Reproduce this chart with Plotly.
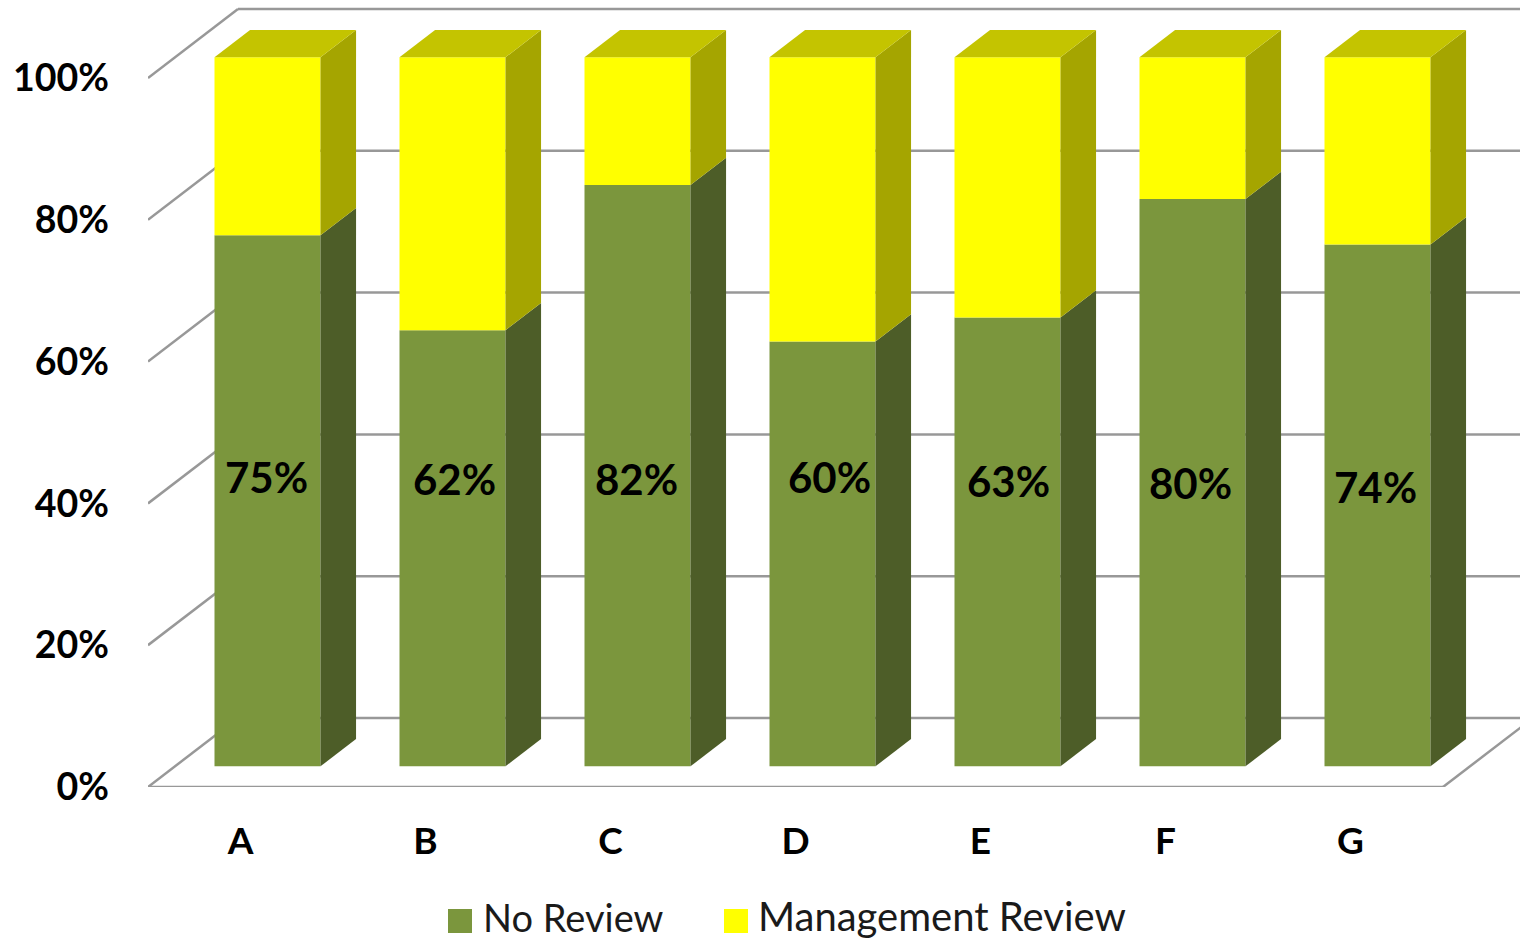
import plotly.graph_objects as go

categories = ["A", "B", "C", "D", "E", "F", "G"]
no_review = [74.9, 61.5, 82.0, 59.9, 63.3, 80.0, 73.6]
total = [100, 100, 100, 100, 100, 100, 100]
labels = ["75%", "62%", "82%", "60%", "63%", "80%", "74%"]
label_dx_px = [-1, 2, -1, 7, 1, -2, -2]
label_y_px = [482, 484, 484, 482, 486, 488, 492]
y_ticks = [0, 20, 40, 60, 80, 100]

GREEN, GREEN_SIDE = "#7B963D", "#4D5D28"
YELLOW, YELLOW_SIDE, YELLOW_TOP = "#FFFF00", "#A5A500", "#C4C400"
GRID = "#989898"
FONT = "Lato"

W, H = 1520, 940
LEFT, BOTTOM_PX = 148, 787
PX_X = 185.0           # pixels per category
PX_Y = 7.09            # pixels per percent
DX, DY = 90 / PX_X, 69 / PX_Y   # full floor depth in axis units
D_FRONT, D_BACK = 0.30, 0.695
HALF = 0.2865


def proj(i, p, d):
    return i + d * DX, p + d * DY


def poly(points):
    xs = [q[0] for q in points] + [points[0][0]]
    ys = [q[1] for q in points] + [points[0][1]]
    return xs, ys


fig = go.Figure()
n = range(len(categories))
bar_x = [proj(i, 0, D_FRONT)[0] for i in n]
y0 = proj(0, 0, D_FRONT)[1]
mgmt = [t - v for t, v in zip(total, no_review)]

fig.add_bar(x=bar_x, y=no_review, base=[y0] * 7, width=2 * HALF, marker_color=GREEN,
            marker_line_width=0, name="No Review", showlegend=False)
fig.add_bar(x=bar_x, y=mgmt, base=[y0 + v for v in no_review], width=2 * HALF, marker_color=YELLOW,
            marker_line_width=0, name="Management Review", showlegend=False)


def side(i, lo, hi, color):
    x_r = i + HALF
    xs, ys = poly([proj(x_r, lo, D_FRONT), proj(x_r, hi, D_FRONT), proj(x_r, hi, D_BACK), proj(x_r, lo, D_BACK)])
    fig.add_scatter(x=xs, y=ys, mode="lines", fill="toself", fillcolor=color, line=dict(width=0),
                    hoverinfo="skip", showlegend=False)


for i in n:
    side(i, 0, no_review[i], GREEN_SIDE)
    side(i, no_review[i], total[i], YELLOW_SIDE)
    xs, ys = poly([proj(i - HALF, total[i], D_FRONT), proj(i + HALF, total[i], D_FRONT),
                   proj(i + HALF, total[i], D_BACK), proj(i - HALF, total[i], D_BACK)])
    fig.add_scatter(x=xs, y=ys, mode="lines", fill="toself", fillcolor=YELLOW_TOP, line=dict(width=0),
                    hoverinfo="skip", showlegend=False)

fig.add_scatter(
    x=[bar_x[i] + label_dx_px[i] / PX_X for i in n],
    y=[(BOTTOM_PX - py) / PX_Y for py in label_y_px],
    mode="text", text=labels, textposition="middle center",
    textfont=dict(family=FONT, size=42, color="#000000", weight="bold"),
    hoverinfo="skip", showlegend=False,
)

shapes = []


def seg(a, b):
    shapes.append(dict(type="line", xref="x", yref="y", x0=a[0], y0=a[1], x1=b[0], y1=b[1],
                       layer="below", line=dict(color=GRID, width=2.5)))


for p in y_ticks:
    seg(proj(-0.5, p, 1), proj(7.5, p, 1))
    seg(proj(-0.5, p, 0), proj(-0.5, p, 1))
seg(proj(-0.5, 0, 0), proj(6.5, 0, 0))
seg(proj(6.5, 0, 0), proj(6.5, 0, 1))


def px_x(px):
    return (px - LEFT) / (W - LEFT)


def px_y(py):
    return (BOTTOM_PX - py) / BOTTOM_PX


annotations = []
for name, color, sx, tx, size, ty in [("No Review", GREEN, 448, 485, 38, 917),
                                      ("Management Review", YELLOW, 724, 760, 40, 916)]:
    shapes.append(dict(type="rect", xref="paper", yref="paper", x0=px_x(sx), x1=px_x(sx + 24),
                       y0=px_y(933), y1=px_y(909), fillcolor=color, line=dict(width=0)))
    annotations.append(dict(xref="paper", yref="paper", x=px_x(tx), y=px_y(ty), text=name, showarrow=False,
                            xanchor="left", yanchor="middle", xshift=-4,
                            font=dict(family=FONT, size=size, color="#1a1a1a")))

fig.update_layout(
    width=W, height=H, autosize=False,
    margin=dict(l=LEFT, r=0, t=0, b=H - BOTTOM_PX, pad=0),
    paper_bgcolor="white", plot_bgcolor="white",
    barmode="overlay", showlegend=False, shapes=shapes, annotations=annotations,
    xaxis=dict(range=[-0.5, -0.5 + (W - LEFT) / PX_X], tickvals=list(n), ticktext=categories,
               showgrid=False, zeroline=False, showline=False, ticks="",
               ticklabelstandoff=29, tickfont=dict(family=FONT, size=37, color="#000000", weight="bold")),
    yaxis=dict(range=[0, BOTTOM_PX / PX_Y], tickvals=y_ticks, ticktext=[f"{t}%" for t in y_ticks],
               showgrid=False, zeroline=False, showline=False, ticks="",
               ticklabelstandoff=38, tickfont=dict(family=FONT, size=37.5, color="#000000", weight="bold")),
)

fig.write_html("out.html", config={"displayModeBar": False},
               post_script="document.body.style.margin='0';document.documentElement.style.overflow='hidden';")
